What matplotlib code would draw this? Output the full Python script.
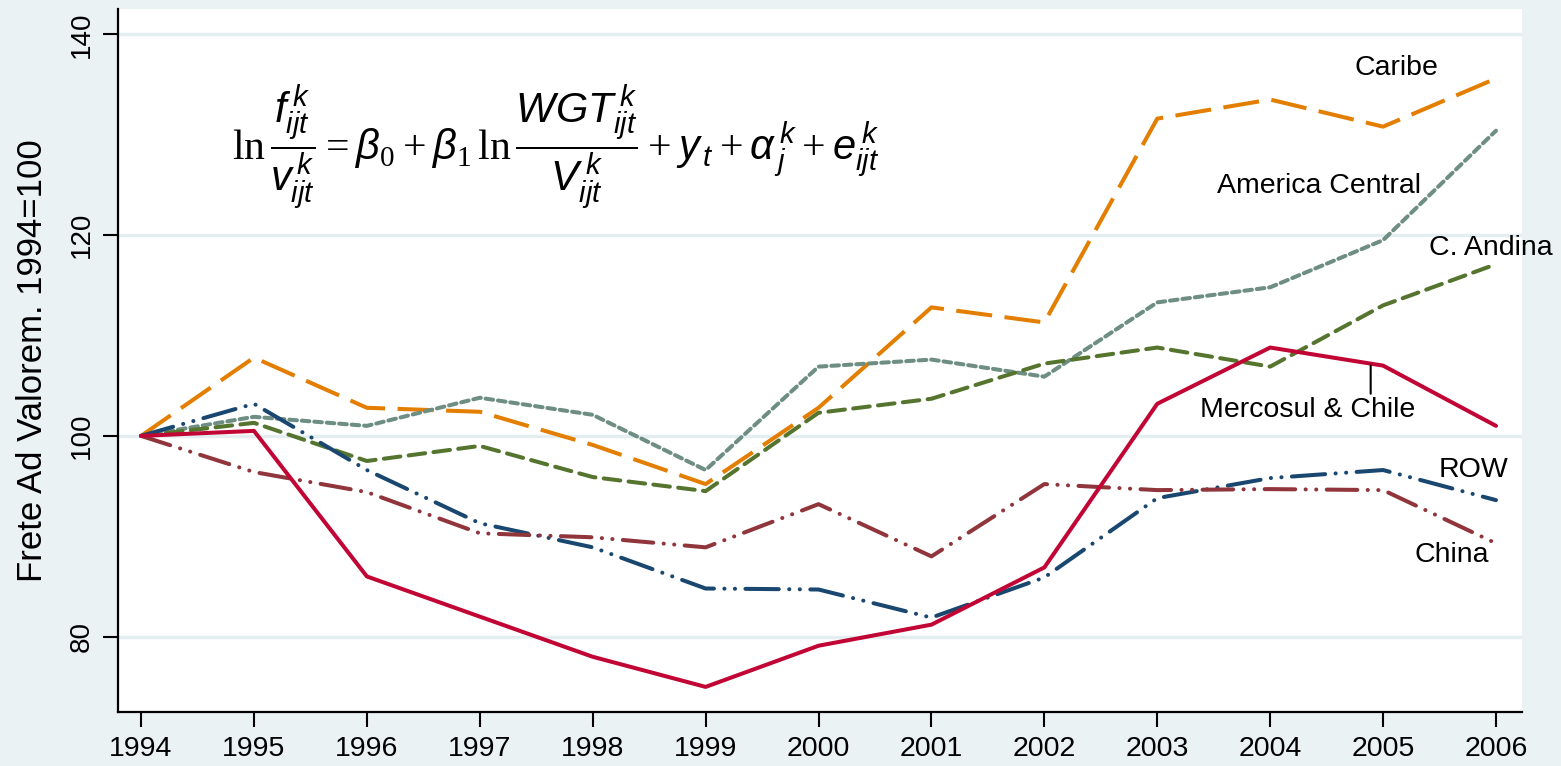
import matplotlib
matplotlib.use("Agg")
import matplotlib.pyplot as plt

years = [1994, 1995, 1996, 1997, 1998, 1999, 2000, 2001, 2002, 2003, 2004, 2005, 2006]

caribe = [100, 107.8, 102.8, 102.4, 99.1, 95.2, 102.8, 112.8, 111.3, 131.6, 133.5, 130.8, 135.6]
america_central = [100, 101.9, 101.0, 103.8, 102.1, 96.6, 106.9, 107.6, 105.9, 113.3, 114.8, 119.5, 130.4]
c_andina = [100, 101.3, 97.5, 99.0, 95.9, 94.5, 102.3, 103.7, 107.2, 108.8, 106.9, 113.0, 117.1]
mercosul = [100, 100.5, 86.0, 82.0, 78.0, 75.0, 79.1, 81.2, 86.9, 103.2, 108.8, 107.0, 101.0]
row = [100, 103.2, 96.6, 91.3, 88.9, 84.8, 84.7, 81.9, 85.9, 93.8, 95.8, 96.6, 93.6]
china = [100, 96.4, 94.4, 90.3, 89.9, 88.9, 93.2, 88.0, 95.2, 94.6, 94.7, 94.6, 89.3]

y_ticks = [80, 100, 120, 140]

plt.rcParams["font.family"] = ["Liberation Sans", "DejaVu Sans"]
plt.rcParams["lines.scale_dashes"] = False
plt.rcParams["mathtext.fontset"] = "custom"
plt.rcParams["mathtext.rm"] = "Liberation Serif"
plt.rcParams["mathtext.it"] = "Liberation Sans:italic"

bg = "#EAF2F3"
fig = plt.figure(figsize=(15.61, 7.66), dpi=100, facecolor=bg)
ax = fig.add_axes([0.0756, 0.0705, 0.8994, 0.9175])
ax.set_facecolor("white")

lw = 2.9
ax.plot(years, caribe, color="#E37E00", lw=lw, dashes=(26, 9))
ax.plot(years, america_central, color="#6E8E84", lw=lw, dashes=(5.5, 3.5), dash_capstyle="round")
ax.plot(years, c_andina, color="#55752F", lw=lw, dashes=(12, 6), dash_capstyle="round")
ax.plot(years, row, color="#1A476F", lw=lw, dashes=(24, 7.5, 0.1, 7.5, 0.1, 7.5), dash_capstyle="round")
ax.plot(years, china, color="#90353B", lw=lw, dashes=(22, 7.5, 0.1, 7.5, 0.1, 7.5), dash_capstyle="round")
ax.plot(years, mercosul, color="#C10534", lw=lw, solid_capstyle="round")

lab = dict(fontsize=20.5, color="black", ha="center", va="center")
ax.text(2005.12, 136.6, "Caribe", **lab)
ax.text(2004.43, 124.9, "America Central", **lab)
ax.text(2005.95, 118.7, "C. Andina", **lab)
ax.text(2005.8, 96.6, "ROW", **lab)
ax.text(2005.61, 88.1, "China", **lab)
ax.text(2004.33, 102.6, "Mercosul & Chile", **lab)
# connector from the Mercosul line down to its label
ax.annotate("", xy=(2004.89, 107.0), xytext=(2004.89, 104.2),
            arrowprops=dict(arrowstyle="-", color="black", lw=1.5, shrinkA=0, shrinkB=0))

eq = (r"$\ln\dfrac{f^{\,k}_{ijt}}{v^{\,k}_{ijt}} = \beta_0 + \beta_1\,\ln\dfrac{WGT^{\,k}_{ijt}}{V^{\,k}_{ijt}}"
      r" + y_{\,t} + \alpha^{\,k}_{\,j} + e^{\,k}_{ijt}$")
ax.text(1997.67, 128.8, eq, fontsize=30, ha="center", va="center")

ax.set_xlim(1993.796, 2006.23)
ax.set_ylim(72.5, 142.5)
ax.set_xticks(years)
ax.set_yticks(y_ticks)
ax.set_yticklabels([str(v) for v in y_ticks], rotation=90, va="center")
ax.tick_params(axis="x", labelsize=20.5, length=11, width=1.5, pad=6)
ax.tick_params(axis="y", labelsize=20, length=11, width=1.5, pad=6)
ax.set_ylabel("Frete Ad Valorem. 1994=100", fontsize=25, labelpad=14)

ax.grid(axis="y", color="#E4EDEF", lw=2.5)
ax.set_axisbelow(True)
for s in ["top", "right"]:
    ax.spines[s].set_visible(False)
for s in ["left", "bottom"]:
    ax.spines[s].set_linewidth(1.6)

fig.savefig("out.png", dpi=100, facecolor=bg)
